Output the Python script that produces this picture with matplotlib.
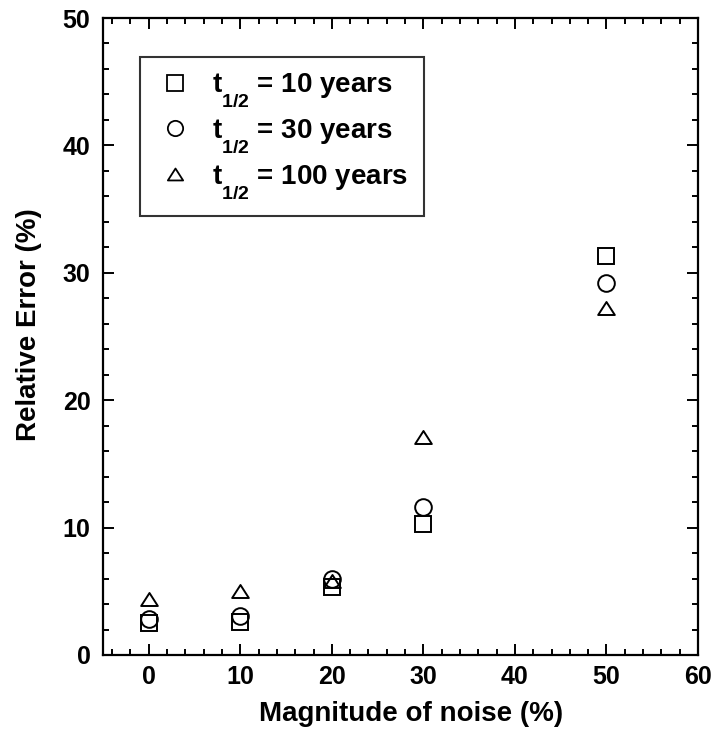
import matplotlib
matplotlib.use("Agg")
import matplotlib.pyplot as plt
from matplotlib.ticker import MultipleLocator
from matplotlib.path import Path

plt.rcParams['font.family'] = ['Liberation Sans', 'DejaVu Sans']
plt.rcParams['font.weight'] = 'bold'
plt.rcParams['mathtext.fontset'] = 'custom'
plt.rcParams['mathtext.rm'] = 'Liberation Sans:bold'
plt.rcParams['mathtext.bf'] = 'Liberation Sans:bold'
plt.rcParams['mathtext.it'] = 'Liberation Sans:bold'
try:
    import matplotlib._mathtext as _mt
    _mt.FontConstantsBase.sub1 = 1.0
except Exception:
    pass

noise = [0, 10, 20, 30, 50]
err_10y = [2.5, 2.6, 5.3, 10.3, 31.3]
err_30y = [2.8, 3.1, 6.0, 11.6, 29.2]
err_100y = [4.4, 5.0, 5.8, 17.1, 27.2]
labels = [r'$\mathbf{t_{1/2}}$ = 10 years', r'$\mathbf{t_{1/2}}$ = 30 years', r'$\mathbf{t_{1/2}}$ = 100 years']

tri = Path([(-1, -0.78), (1, -0.78), (0, 0.78), (-1, -0.78)],
           [Path.MOVETO, Path.LINETO, Path.LINETO, Path.CLOSEPOLY])

fig = plt.figure(figsize=(7.15, 7.29), dpi=100)
ax = fig.add_axes([103/715, 74/729, 595/715, 637/729])

kw = dict(linestyle='none', markerfacecolor='none', markeredgecolor='black', markersize=12, markeredgewidth=1.4)
ax.plot(noise, err_10y, marker='s', label=labels[0], **kw)
ax.plot(noise, err_30y, marker='o', label=labels[1], **kw)
ax.plot(noise, err_100y, marker=tri, label=labels[2], **kw)

ax.set_xlim(-5, 60)
ax.set_ylim(0, 50)
ax.xaxis.set_major_locator(MultipleLocator(10))
ax.xaxis.set_minor_locator(MultipleLocator(2))
ax.yaxis.set_major_locator(MultipleLocator(10))
ax.yaxis.set_minor_locator(MultipleLocator(2))
ax.tick_params(which='both', direction='in', top=True, right=True, width=1.4, labelsize=18)
ax.tick_params(which='major', length=8)
ax.tick_params(which='minor', length=4.5)
ax.tick_params(axis='x', pad=7)
ax.tick_params(axis='y', pad=9)
for s in ax.spines.values():
    s.set_linewidth(1.6)
for t in ax.get_xticklabels() + ax.get_yticklabels():
    t.set_fontweight('bold')

ax.set_xlabel('Magnitude of noise (%)', fontsize=20, fontweight='bold')
ax.set_ylabel('Relative Error (%)', fontsize=20, fontweight='bold')
ax.xaxis.set_label_coords(0.518, -0.072)
ax.yaxis.set_label_coords(-0.103, 0.519)

leg = ax.legend(loc='upper left', bbox_to_anchor=(0.062, 0.939), fontsize=20, frameon=True,
                fancybox=False, edgecolor='black', handletextpad=0.6, borderpad=0.55,
                labelspacing=0.3, handlelength=1.45, borderaxespad=0)
leg.get_frame().set_linewidth(1.5)
for lh in leg.legend_handles:
    lh.set_markersize(11)
    lh.set_markeredgewidth(1.3)

fig.savefig('out.png', dpi=100)
